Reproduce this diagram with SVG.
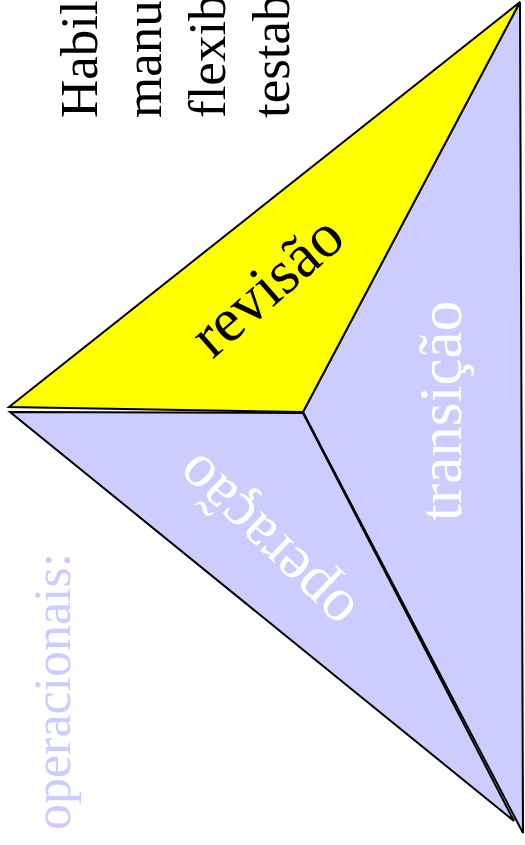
<svg xmlns="http://www.w3.org/2000/svg" width="525" height="845" viewBox="0 0 525 845">
<style>
.face{stroke:#000;stroke-width:2;stroke-linejoin:miter}
.blue{fill:#ccccff}
.yellow{fill:#ffff00}
.t{font-family:"Liberation Serif","Times New Roman",serif}
</style>
<rect width="525" height="845" fill="#fff"/>
<g id="transicao">
<polygon class="face blue" points="520,2 303,412 523,833"/>
<text class="t" font-size="61" fill="#fff" transform="translate(461,521) rotate(-90)">transição</text>
</g>
<g id="operacao">
<polygon class="face blue" points="10,412 303,413 514,821"/>
<text class="t" font-size="62" fill="#fff" text-anchor="middle" transform="translate(279,528) rotate(-136)">operação</text>
</g>
<g id="revisao">
<polygon class="face yellow" points="9,407 520,2 303,412"/>
<text class="t" font-size="62" fill="#000" text-anchor="middle" transform="translate(280,301) rotate(-41)">revisão</text>
</g>
<g id="label-operacionais">
<text class="t" font-size="52" fill="#ccccff" transform="translate(70,830) rotate(-90)">operacionais:</text>
</g>
<g id="label-revisao-list">
<text class="t" font-size="53" fill="#000" transform="translate(97,118) rotate(-90)">Habil</text>
<text class="t" font-size="53" fill="#000" transform="translate(161,118) rotate(-90)">manu</text>
<text class="t" font-size="53" fill="#000" transform="translate(225,118) rotate(-90)">flexib</text>
<text class="t" font-size="53" fill="#000" transform="translate(289,118) rotate(-90)">testab</text>
</g>
</svg>
